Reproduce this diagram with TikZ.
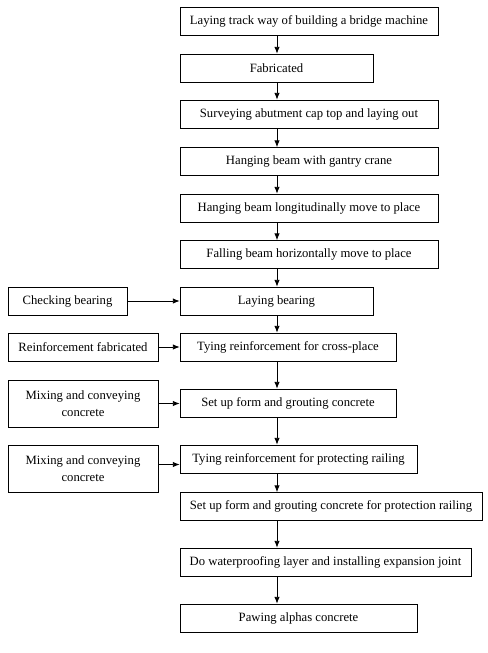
\documentclass[tikz,border=0pt]{standalone}
\usepackage{fontspec}
\setmainfont{Liberation Serif}
\usepackage{tikz}
\usetikzlibrary{calc,arrows.meta}
\tikzset{>={Latex[length=5pt, width=4pt]}}
\begin{document}
\begin{tikzpicture}[x=0.75pt, y=-0.75pt, line width=0.6pt,
    box/.style={draw, inner sep=0pt, minimum height=21pt, align=center, font=\fontsize{9.5}{13}\selectfont}]
        \useasboundingbox (0, 0) rectangle (487, 653);
        \coordinate (sp) at (277, 0);
        \node[box, minimum width=193.5pt] (b1) at (309, 21) {Laying track way of building a bridge machine};
        \node[box, minimum width=144.75pt] (b2) at (276.5, 68) {Fabricated};
        \node[box, minimum width=193.5pt] (b3) at (309, 114) {Surveying abutment cap top and laying out};
        \node[box, minimum width=193.5pt] (b4) at (309, 161.5) {Hanging beam with gantry crane};
        \node[box, minimum width=193.5pt] (b5) at (309, 208) {Hanging beam longitudinally move to place};
        \node[box, minimum width=193.5pt] (b6) at (309, 254.5) {Falling beam horizontally move to place};
        \node[box, minimum width=144.75pt] (b7) at (276.5, 301) {Laying bearing};
        \node[box, minimum width=162pt] (b8) at (288, 347) {Tying reinforcement for cross-place};
        \node[box, minimum width=162pt] (b9) at (288, 403) {Set up form and grouting concrete};
        \node[box, minimum width=177.75pt] (b10) at (298.5, 459) {Tying reinforcement for protecting railing};
        \node[box, minimum width=226.5pt] (b11) at (331, 506.5) {Set up form and grouting concrete for protection railing};
        \node[box, minimum width=218.25pt] (b12) at (325.5, 562) {Do waterproofing layer and installing expansion joint};
        \node[box, minimum width=177.75pt] (b13) at (298.5, 618) {Pawing alphas concrete};
        \node[box, minimum width=89.25pt] (s1) at (67.5, 301) {Checking bearing};
        \node[box, minimum width=112.5pt] (s2) at (83, 347) {Reinforcement fabricated};
        \node[box, minimum width=112.5pt, minimum height=35.25pt] (s3) at (83, 403.5) {Mixing and conveying\\concrete};
        \node[box, minimum width=112.5pt, minimum height=35.25pt] (s4) at (83, 468.5) {Mixing and conveying\\concrete};
        \foreach \a/\b in {b1/b2, b2/b3, b3/b4, b4/b5, b5/b6, b6/b7, b7/b8, b8/b9, b9/b10, b10/b11, b11/b12, b12/b13} {
          \draw[->] (\a.south -| sp) -- (\b.north -| sp);
        }
        \draw[->] (s1.east) -- (s1.east -| b7.west);
        \draw[->] (s2.east) -- (s2.east -| b8.west);
        \draw[->] (s3.east) -- (s3.east -| b9.west);
        \draw[->] ($(s4.east)+(0, -4)$) -- ($(s4.east -| b10.west)+(0, -4)$);
      \end{tikzpicture}
\end{document}
